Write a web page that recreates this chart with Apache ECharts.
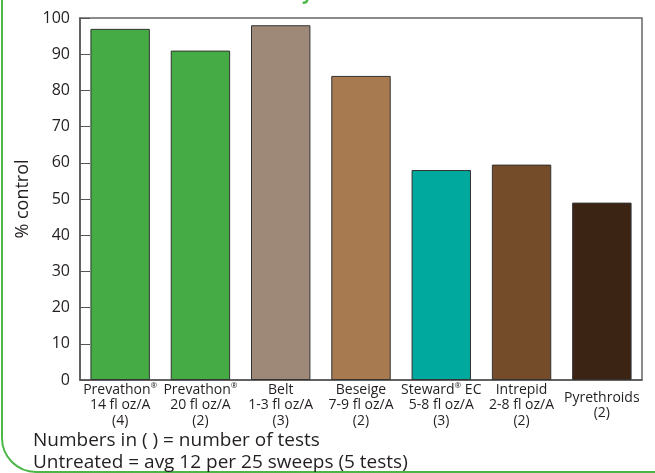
<!DOCTYPE html>
<html><head><meta charset="utf-8">
<script src="https://cdn.jsdelivr.net/npm/echarts@6/dist/echarts.min.js"></script>
<style>html,body{margin:0;padding:0;background:#fff}#c{width:655px;height:473px}</style>
</head><body><div id="c"></div>
<script>
const categories = [
  ['Prevathon{s|®}', '14 fl oz/A', '(4)'],
  ['Prevathon{s|®}', '20 fl oz/A', '(2)'],
  ['Belt', '1-3 fl oz/A', '(3)'],
  ['Beseige', '7-9 fl oz/A', '(2)'],
  ['Steward{s|®} EC', '5-8 fl oz/A', '(3)'],
  ['Intrepid', '2-8 fl oz/A', '(2)'],
  ['Pyrethroids', '(2)']
];
const values = [97, 91, 98, 84, 58, 59.5, 49];
const colors = ['#45ab45', '#45ab45', '#9e8878', '#a87a50', '#00a99d', '#754c29', '#3c2415'];
const yTicks = [0, 10, 20, 30, 40, 50, 60, 70, 80, 90, 100];
const footnotes = ['Numbers in ( ) = number of tests', 'Untreated = avg 12 per 25 sweeps (5 tests)'];

const chart = echarts.init(document.getElementById('c'));
const font = '"Open Sans", "Noto Sans", sans-serif';
chart.setOption({
  animation: false,
  grid: { left: 80, right: 13, top: 18, bottom: 93, show: true, borderColor: '#666', borderWidth: 1.5 },
  xAxis: {
    type: 'category',
    data: categories.map((c, i) => ({
      value: c.join('\n'),
      textStyle: c.length === 2 ? { padding: [8, 0, 0, 0] } : {}
    })),
    axisLine: { lineStyle: { color: '#555', width: 1.5 } },
    axisTick: { inside: true, length: 6, lineStyle: { color: '#555' } },
    axisLabel: {
      interval: 0, margin: 2, color: '#231f20', fontFamily: font, fontSize: 14, lineHeight: 15.5,
      rich: { s: { fontSize: 8, verticalAlign: 'top', lineHeight: 15.5, padding: [0, 0, 7, 0], color: '#231f20' } }
    }
  },
  yAxis: {
    type: 'value', min: 0, max: 100, interval: 10,
    name: '% control', nameLocation: 'middle', nameGap: 40,
    nameTextStyle: { fontFamily: font, fontSize: 18, color: '#231f20' },
    axisLine: { show: true, lineStyle: { color: '#555', width: 1.5 } },
    axisTick: { show: true, inside: true, length: 10, lineStyle: { color: '#555' } },
    splitLine: { show: false },
    axisLabel: { margin: 10, color: '#231f20', fontFamily: font, fontSize: 16,
      formatter: v => yTicks.includes(v) ? String(v) : '' }
  },
  series: [{
    type: 'bar',
    barCategoryGap: '26%',
    data: values.map((v, i) => ({ value: v, itemStyle: { color: colors[i] } })),
    itemStyle: { borderColor: '#333', borderWidth: 1 }
  }],
  graphic: [
    { type: 'rect', shape: { x: 2, y: -60, width: 720, height: 532, r: 34 },
      style: { fill: 'none', stroke: '#4cb748', lineWidth: 2 }, z: -1 },
    { type: 'text', left: 290, top: -16,
      style: { text: 'by 21 DAT', fontFamily: font, fontWeight: 'bold', fontSize: 19, fill: '#4cb748' } },
    { type: 'text', left: 33, top: 431,
      style: { text: footnotes[0], fontFamily: font, fontSize: 19, fill: '#231f20' } },
    { type: 'text', left: 33, top: 453,
      style: { text: footnotes[1], fontFamily: font, fontSize: 19, fill: '#231f20' } }
  ]
});
</script></body></html>
